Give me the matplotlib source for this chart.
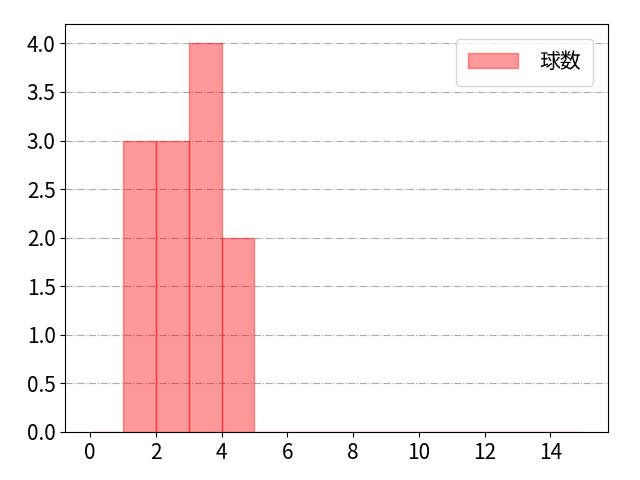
import numpy as np
import matplotlib.pyplot as plt

plt.rcParams['font.family'] = ['Noto Sans CJK JP', 'DejaVu Sans']

# pitch counts per bin (bins of width 1 from 0 to 15)
bin_edges = list(range(0, 16))
counts = [0, 3, 3, 4, 2, 0, 0, 0, 0, 0, 0, 0, 0, 0, 0]
label = '球数'
xticks = list(range(0, 15, 2))

fig, ax = plt.subplots(figsize=(6.4, 4.8), dpi=100)
ax.hist(bin_edges[:-1], bins=bin_edges, weights=counts,
        color='red', alpha=0.4, edgecolor='red', label=label)
ax.grid(axis='y', linestyle='-.', color='#aaaaaa')
ax.set_axisbelow(True)
ax.set_xticks(xticks)
ax.tick_params(labelsize=15)
ax.legend(fontsize=15, borderpad=0.6, handlelength=2.4, handletextpad=1.0,
          borderaxespad=0.7)
fig.subplots_adjust(left=0.102, right=0.95, top=0.95, bottom=0.1)
fig.savefig('out.png')
